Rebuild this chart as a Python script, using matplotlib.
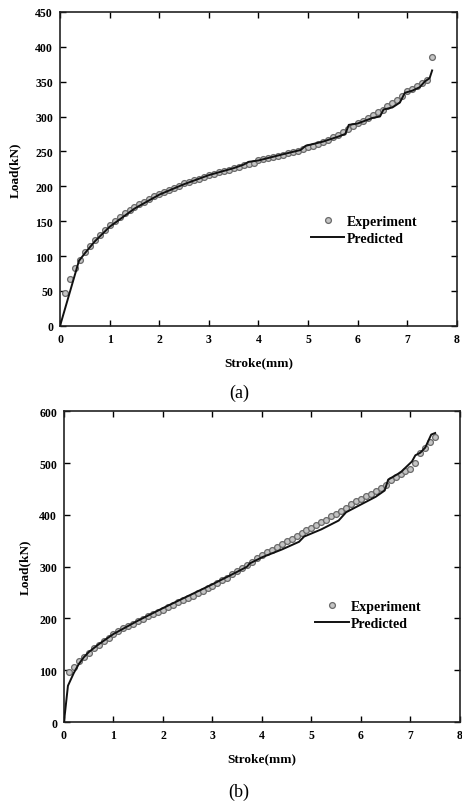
import matplotlib
matplotlib.use("Agg")
import matplotlib.pyplot as plt

plt.rcParams['font.family'] = ['Liberation Serif', 'DejaVu Serif']

# ---- (a) load vs stroke ----
stroke_exp_a = [0.1, 0.2, 0.3, 0.4, 0.5, 0.6, 0.7, 0.8, 0.9, 1.0,
                1.1, 1.2, 1.3, 1.4, 1.5, 1.6, 1.7, 1.8, 1.9, 2.0,
                2.1, 2.2, 2.3, 2.4, 2.5, 2.6, 2.7, 2.8, 2.9, 3.0,
                3.1, 3.2, 3.3, 3.4, 3.5, 3.6, 3.7, 3.8, 3.9, 4.0,
                4.1, 4.2, 4.3, 4.4, 4.5, 4.6, 4.7, 4.8, 4.9, 5.0,
                5.1, 5.2, 5.3, 5.4, 5.5, 5.6, 5.7, 5.8, 5.9, 6.0,
                6.1, 6.2, 6.3, 6.4, 6.5, 6.6, 6.7, 6.8, 6.9, 7.0,
                7.1, 7.2, 7.3, 7.4, 7.5]
load_exp_a = [47, 67, 83, 95, 106, 115, 123, 130, 137, 144,
              150, 156, 161, 166, 170, 174, 178, 182, 186, 189,
              192, 195, 198, 201, 204, 206, 209, 211, 214, 216,
              218, 220, 222, 224, 226, 228, 230, 232, 234, 237,
              239, 240, 242, 244, 245, 247, 249, 251, 253, 256,
              258, 261, 264, 267, 271, 274, 278, 282, 286, 290,
              294, 298, 302, 306, 310, 315, 319, 324, 330, 336,
              340, 344, 348, 353, 385]

stroke_pred_a = [0.0, 0.38, 0.5, 0.7, 1.0, 1.5, 2.0, 2.5, 3.0, 3.5,
                 3.7, 3.8, 4.0, 4.5, 4.85, 4.95, 5.3, 5.6, 5.75, 5.82,
                 6.0, 6.3, 6.45, 6.52, 6.7, 6.85, 6.95, 7.1, 7.25, 7.35,
                 7.45, 7.5]
load_pred_a = [0, 93, 104, 121, 142, 168, 188, 203, 216, 226,
               231, 235, 237, 246, 252, 258, 264, 271, 275, 288,
               290, 298, 300, 310, 313, 320, 334, 337, 342, 350,
               355, 366]

# ---- (b) load vs stroke ----
stroke_exp_b = stroke_exp_a
load_exp_b = [97, 107, 117, 126, 134, 142, 149, 156, 162, 170,
              176, 181, 186, 190, 195, 199, 204, 208, 213, 217,
              222, 226, 231, 235, 240, 244, 249, 253, 258, 263,
              268, 274, 279, 285, 291, 297, 303, 309, 316, 322,
              328, 333, 338, 344, 349, 354, 360, 365, 370, 375,
              380, 386, 391, 397, 402, 408, 414, 420, 426, 431,
              436, 441, 446, 451, 458, 468, 474, 479, 484, 488,
              500, 520, 530, 540, 550]

stroke_pred_b = [0.0, 0.08, 0.2, 0.3, 0.4, 0.5, 0.7, 1.0, 1.5, 2.0,
                 2.5, 3.0, 3.5, 3.7, 3.75, 4.0, 4.4, 4.75, 4.85, 5.2,
                 5.55, 5.7, 6.0, 6.3, 6.48, 6.55, 6.8, 7.03, 7.1, 7.2,
                 7.3, 7.42, 7.5]
load_pred_b = [0, 70, 95, 112, 125, 135, 150, 170, 196, 220,
               243, 266, 290, 300, 306, 318, 333, 348, 358, 372,
               389, 405, 420, 435, 447, 468, 482, 503, 515, 520,
               530, 555, 558]

fig = plt.figure(figsize=(4.62, 8.03), dpi=100)
ax_a = fig.add_axes([0.130, 0.593, 0.859, 0.391])
ax_b = fig.add_axes([0.1385, 0.0996, 0.857, 0.387])


def draw(ax, xe, ye, xp, yp, ymax, ystep, leg_pos, ylab_pad):
    ax.plot(xe, ye, 'o', ms=4.2, mfc='#c4c4c4', mec='#6a6a6a', mew=0.9,
            label='Experiment', zorder=2)
    ax.plot(xp, yp, '-', color='#111111', lw=1.4, label='Predicted', zorder=3)
    ax.set_xlim(0, 8)
    ax.set_ylim(0, ymax)
    ax.set_xticks(range(0, 9))
    ax.set_yticks(range(0, ymax + 1, ystep))
    ax.tick_params(direction='in', top=True, right=True, length=4.5,
                   width=1.0, pad=5, labelsize=8.5)
    for lbl in ax.get_xticklabels() + ax.get_yticklabels():
        lbl.set_fontweight('bold')
    for sp in ax.spines.values():
        sp.set_linewidth(1.2)
        sp.set_color('#222222')
    ax.set_xlabel('Stroke(mm)', fontsize=9.5, fontweight='bold', labelpad=8)
    ax.set_ylabel('Load(kN)', fontsize=9.5, fontweight='bold', labelpad=ylab_pad)
    ax.legend(loc='lower left', bbox_to_anchor=leg_pos, frameon=False,
              numpoints=1, handlelength=2.4, handletextpad=0.15,
              labelspacing=0.3, borderpad=0,
              prop={'weight': 'bold', 'size': 10})


draw(ax_a, stroke_exp_a, load_exp_a, stroke_pred_a, load_pred_a, 450, 50,
     (0.615, 0.236), 10)
draw(ax_b, stroke_exp_b, load_exp_b, stroke_pred_b, load_pred_b, 600, 100,
     (0.617, 0.273), 6)

fig.text(239 / 462, 1 - 393 / 803, '(a)', ha='center', va='center', fontsize=13)
fig.text(239 / 462, 1 - 792 / 803, '(b)', ha='center', va='center', fontsize=13)

fig.savefig('out.png', dpi=100)
